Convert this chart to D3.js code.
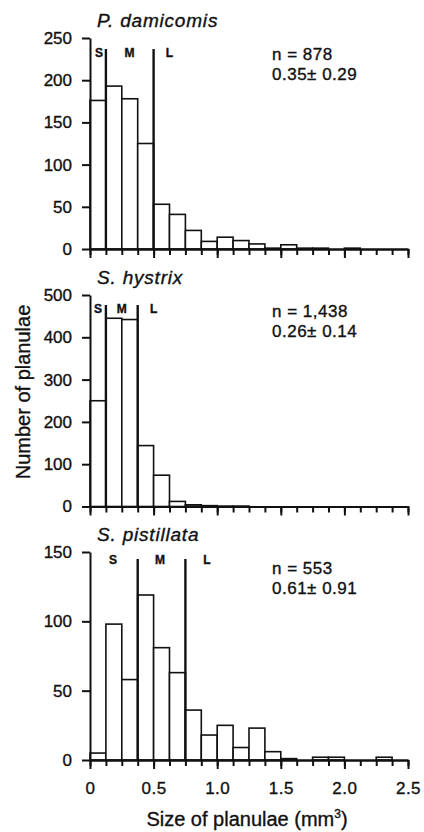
<html lang="en">
  <head>
    <meta charset="utf-8">
    <title>Planulae size</title>
    <script src="https://d3js.org/d3.v7.min.js"></script>
    <style>
      body { margin: 0; background: #fff; }
      text { font-family: "Liberation Sans", Arial, sans-serif; fill: #111; stroke: #111; stroke-width: 0.35px; }
    </style>
  </head>
  <body>
    <script type="text/javascript">
      var w = 424;
      var h = 832;

      // bin starts, bin width 0.125 mm3
      var binStarts = [0, 0.125, 0.25, 0.375, 0.5, 0.625, 0.75, 0.875, 1.0, 1.125,
                       1.25, 1.375, 1.5, 1.625, 1.75, 1.875, 2.0, 2.125, 2.25, 2.375];
      var binWidth = 0.125;
      var damicornis = [176, 193, 178, 125, 53, 41, 22, 9, 14, 10, 6, 1, 5, 1, 1, 0, 1, 0, 0, 0];
      var hystrix    = [250, 445, 442, 144, 74, 12, 4, 2, 1, 1, 0, 0, 0, 0, 0, 0, 0, 0, 0, 0];
      var pistillata = [5, 98, 58, 119, 81, 63, 36, 18, 25, 9, 23, 6, 1, 0, 2, 2, 0, 0, 2, 0];

      var yTicks1 = [0, 50, 100, 150, 200, 250];
      var yTicks2 = [0, 100, 200, 300, 400, 500];
      var yTicks3 = [0, 50, 100, 150];
      var xMajorTicks = [0, 0.5, 1.0, 1.5, 2.0, 2.5];
      var xTickLabels = ["0", "0.5", "1.0", "1.5", "2.0", "2.5"];

      var titles = ["P. damicomis", "S. hystrix", "S. pistillata"];
      var nLabels = ["n = 878", "n = 1,438", "n = 553"];
      var meanLabels = ["0.35\u00b1 0.29", "0.26\u00b1 0.14", "0.61\u00b1 0.91"];
      var cutoffs = [[0.125, 0.5], [0.125, 0.375], [0.375, 0.75]];
      var classNames = ["S", "M", "L"];
      var classPos = [[0.07, 0.31, 0.625], [0.063, 0.25, 0.5], [0.18, 0.55, 0.92]];

      var panels = [
        {values: damicornis, ticks: yTicks1, top: 38, bottom: 249, lineTop: 49, classY: 57},
        {values: hystrix, ticks: yTicks2, top: 295, bottom: 506.5, lineTop: 305, classY: 313},
        {values: pistillata, ticks: yTicks3, top: 552, bottom: 760, lineTop: 559, classY: 564}
      ];

      var xScale = d3.scaleLinear().domain([0, 2.5]).range([90, 408]);

      var svg = d3.select("body")
          .append("svg")
          .attr("width", w)
          .attr("height", h);

      panels.forEach(function(p, i) {
        var yMax = p.ticks[p.ticks.length - 1];
        var yScale = d3.scaleLinear().domain([0, yMax]).range([p.bottom, p.top]);
        var g = svg.append("g");

        // bars
        var bins = binStarts.map(function(b, j) { return {x0: b, v: p.values[j]}; })
            .filter(function(d) { return d.v > 0; });
        g.selectAll("rect")
            .data(bins)
            .enter()
            .append("rect")
            .attr("x", d => xScale(d.x0))
            .attr("y", d => yScale(d.v))
            .attr("width", d => xScale(d.x0 + binWidth) - xScale(d.x0))
            .attr("height", d => yScale(0) - yScale(d.v))
            .attr("fill", "#fff")
            .attr("stroke", "#111")
            .attr("stroke-width", 1.6);

        // size class cut lines
        g.selectAll(".cut")
            .data(cutoffs[i])
            .enter()
            .append("line")
            .attr("x1", d => xScale(d))
            .attr("x2", d => xScale(d))
            .attr("y1", p.lineTop)
            .attr("y2", yScale(0))
            .attr("stroke", "#111")
            .attr("stroke-width", 2.4);

        g.selectAll(".cls")
            .data(classNames)
            .enter()
            .append("text")
            .attr("x", (d, k) => xScale(classPos[i][k]))
            .attr("y", p.classY)
            .attr("text-anchor", "middle")
            .style("font-weight", "bold")
            .style("font-size", "12px")
            .text(d => d);

        // x axis: minor ticks
        var xMinor = d3.axisBottom(xScale)
            .tickValues(binStarts.concat([2.5]))
            .tickSize(6)
            .tickSizeOuter(0)
            .tickFormat("");
        var gx = g.append("g")
            .attr("transform", "translate(0," + yScale(0) + ")")
            .call(xMinor);
        // x axis: major ticks
        var xMajor = d3.axisBottom(xScale)
            .tickValues(xMajorTicks)
            .tickSize(9)
            .tickSizeOuter(0)
            .tickPadding(13)
            .tickFormat((d, k) => i === 2 ? xTickLabels[k] : "");
        var gx2 = g.append("g")
            .attr("transform", "translate(0," + yScale(0) + ")")
            .call(xMajor);
        [gx, gx2].forEach(function(a) {
          a.selectAll("path, line").attr("stroke", "#111").attr("stroke-width", 2);
          a.selectAll("text").style("font-size", "17px").style("letter-spacing", "0.5px")
              .attr("fill", "#111").style("font-family", "'Liberation Sans', Arial, sans-serif");
        });

        // y axis
        var yAxis = d3.axisLeft(yScale)
            .tickValues(p.ticks)
            .tickSize(8)
            .tickSizeOuter(0)
            .tickPadding(10);
        var gy = g.append("g")
            .attr("transform", "translate(" + xScale(0) + ",0)")
            .call(yAxis);
        gy.selectAll("path, line").attr("stroke", "#111").attr("stroke-width", 2);
        gy.selectAll("text").style("font-size", "17px").attr("fill", "#111")
            .style("font-family", "'Liberation Sans', Arial, sans-serif");

        // titles and annotations
        g.append("text")
            .attr("x", 97)
            .attr("y", p.top - 11)
            .style("font-style", "italic")
            .style("font-size", "19px")
            .style("letter-spacing", "0.8px")
            .text(titles[i]);
        g.append("text")
            .attr("x", 272)
            .attr("y", p.top + 22)
            .style("font-size", "17px")
            .style("letter-spacing", "0.5px")
            .text(nLabels[i]);
        g.append("text")
            .attr("x", 272)
            .attr("y", p.top + 42)
            .style("font-size", "17px")
            .style("letter-spacing", "0.5px")
            .text(meanLabels[i]);
      });

      // axis titles
      var xt = svg.append("text")
          .attr("x", 247)
          .attr("y", 826)
          .attr("text-anchor", "middle")
          .style("font-size", "20px");
      xt.append("tspan").text("Size of planulae (mm");
      xt.append("tspan").attr("dy", -8).style("font-size", "12px").text("3");
      xt.append("tspan").attr("dy", 8).text(")");

      svg.append("text")
          .attr("transform", "translate(30,392) rotate(-90)")
          .attr("text-anchor", "middle")
          .style("font-size", "20px")
          .text("Number of planulae");
    </script>
  </body>
</html>
